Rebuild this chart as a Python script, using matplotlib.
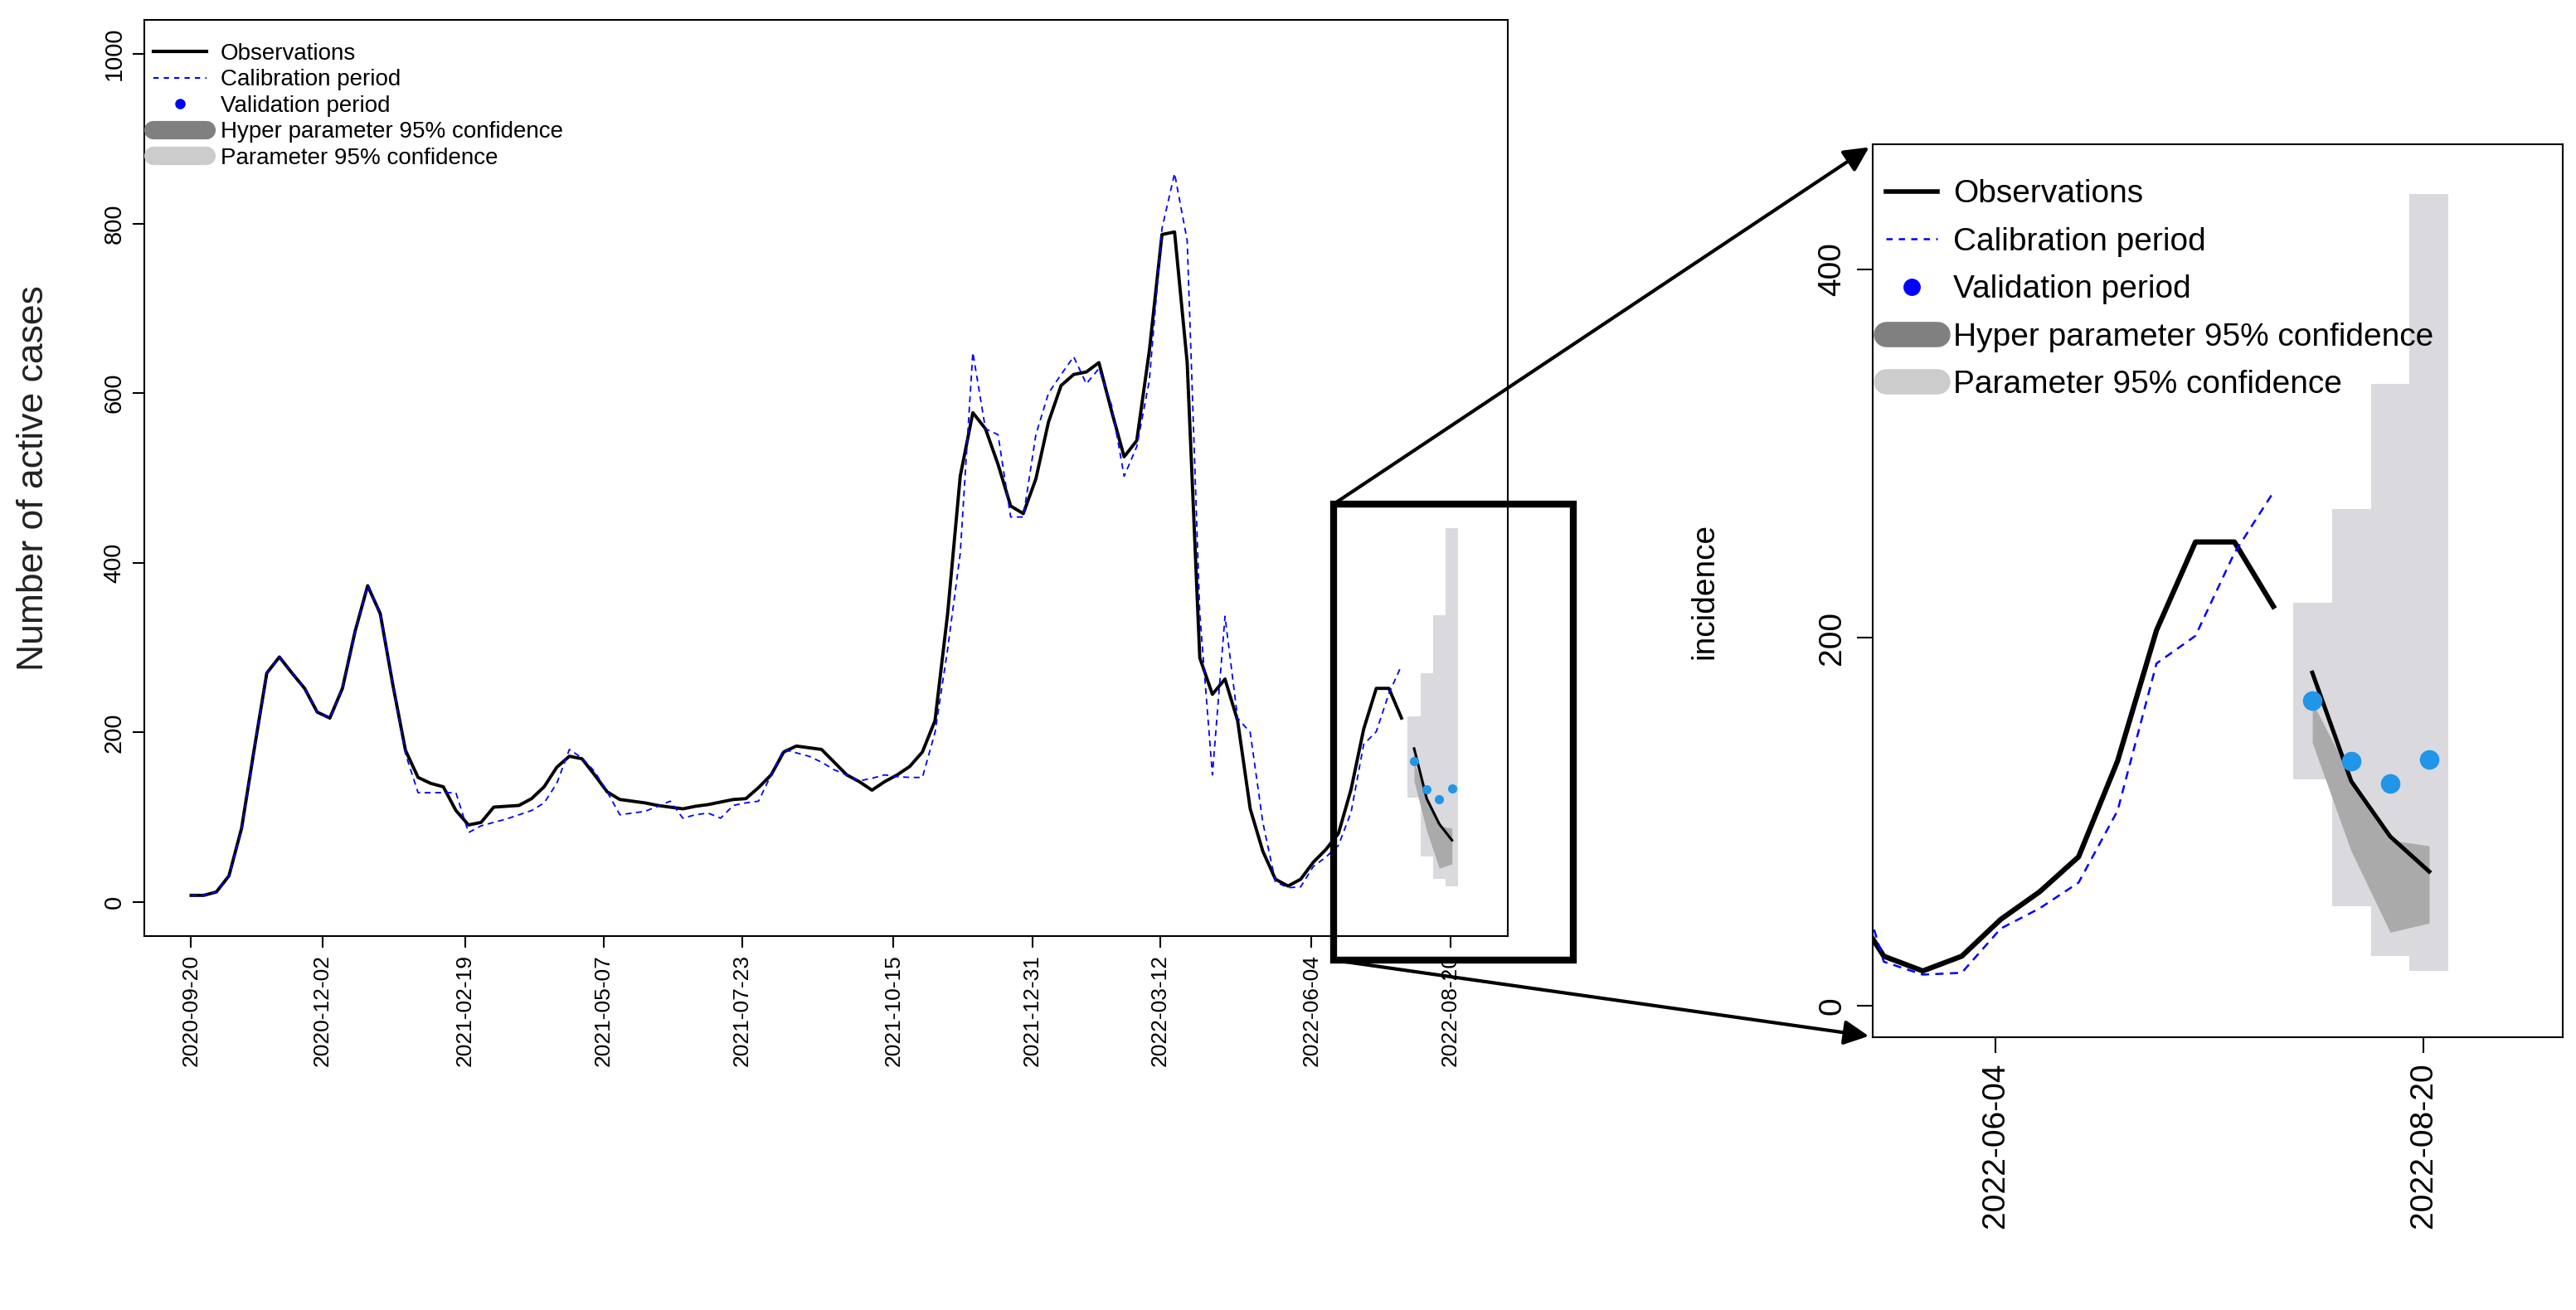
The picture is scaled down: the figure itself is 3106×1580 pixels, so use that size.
import numpy as np
import pandas as pd
import matplotlib
matplotlib.use('Agg')
import matplotlib.pyplot as plt
from matplotlib.lines import Line2D
from matplotlib.patches import Rectangle, FancyArrowPatch

plt.rcParams['font.family'] = ['Liberation Sans', 'DejaVu Sans']

# ---------------- data (weekly) ----------------
START = '2020-09-20'
obs = [8, 8, 12, 31, 87, 180, 270, 289, 270, 252, 224, 217, 252, 319, 373, 340,
       256, 179, 147, 140, 136, 108, 91, 94, 112, 113, 114, 122, 136, 159, 172,
       169, 150, 130, 121, 119, 117, 114, 112, 110, 113, 115, 118, 121, 122, 135,
       150, 177, 184, 182, 180, 165, 150, 142, 132, 142, 150, 160, 177, 214, 340,
       502, 577, 558, 516, 467, 458, 499, 566, 609, 622, 625, 636, 579, 525, 544,
       650, 787, 790, 636, 288, 245, 263, 214, 110, 60, 27, 19, 27, 47, 62, 81,
       133, 204, 252, 252, 217]
calib = [8, 8, 12, 31, 85, 180, 270, 289, 270, 252, 224, 217, 252, 319, 373, 340,
         256, 175, 129, 129, 129, 129, 82, 90, 94, 98, 103, 108, 117, 140, 180,
         170, 154, 130, 103, 105, 107, 113, 119, 99, 103, 105, 99, 114, 117, 119,
         150, 180, 176, 172, 165, 156, 150, 143, 146, 150, 148, 147, 147, 200, 298,
         411, 648, 558, 551, 454, 454, 551, 600, 622, 643, 611, 629, 586, 502, 537,
         615, 794, 859, 780, 340, 150, 337, 217, 200, 94, 24, 17, 18, 42, 53, 67,
         106, 186, 201, 246, 279]
obs_valid = [181, 122, 92, 73]
valid_pts = [166, 133, 121, 134]
hyper_lo = [143, 84, 40, 45]
hyper_hi = [165, 124, 90, 87]
param_lo = [123, 54, 27, 19]
param_hi = [219, 270, 338, 441]

tick_labels = ['2020-09-20', '2020-12-02', '2021-02-19', '2021-05-07', '2021-07-23',
               '2021-10-15', '2021-12-31', '2022-03-12', '2022-06-04', '2022-08-20']
inset_ticks = ['2022-06-04', '2022-08-20']

dates = pd.date_range(START, periods=len(obs), freq='7D')
vdates = pd.date_range(dates[-1] + pd.Timedelta(days=7), periods=len(obs_valid), freq='7D')

BAND_LIGHT = '#d9d9de'
BAND_DARK = '#aaaaaa'
PT_COLOR = '#2196e8'

W, H = 3106, 1580
fig = plt.figure(figsize=(W / 100, H / 100), dpi=100)


def draw(ax, lw_obs, lw_cal, ms):
    ax.bar(vdates, np.array(param_hi) - np.array(param_lo), bottom=param_lo,
           width=7, color=BAND_LIGHT, linewidth=0, zorder=1)
    ax.fill_between(vdates, hyper_lo, hyper_hi, color=BAND_DARK, linewidth=0, zorder=2)
    ax.plot(dates, obs, color='black', lw=lw_obs, zorder=3)
    ax.plot(dates, calib, color='blue', lw=lw_cal, ls=(0, (4, 3)), zorder=4)
    ax.plot(vdates, obs_valid, color='black', lw=lw_obs * 0.8, zorder=3)
    ax.plot(vdates, valid_pts, 'o', color=PT_COLOR, ms=ms, mec='none', zorder=5)
    for s in ax.spines.values():
        s.set_linewidth(1.5)


def legend(ax, fs, hl, spacing, hlen, pad, top):
    handles = [Line2D([], [], color='black', lw=hl[0]),
               Line2D([], [], color='blue', lw=hl[1], ls=(0, (3, 3))),
               Line2D([], [], color='blue', ls='none', marker='o', ms=hl[2]),
               Line2D([], [], color='#808080', lw=hl[3], solid_capstyle='round'),
               Line2D([], [], color='#cccccc', lw=hl[3], solid_capstyle='round')]
    labels = ['Observations', 'Calibration period', 'Validation period',
              'Hyper parameter 95% confidence', 'Parameter 95% confidence']
    ax.legend(handles, labels, loc='upper left', bbox_to_anchor=(0, top),
              frameon=False, fontsize=fs, borderaxespad=0.0, handlelength=hlen,
              handletextpad=pad, labelspacing=spacing, borderpad=0.4)


# ---------------- main panel ----------------
ax = fig.add_axes([174 / W, 1 - 1129 / H, (1818 - 174) / W, (1129 - 24) / H])
draw(ax, 2.8, 1.3, 8)
ax.set_ylim(-40, 1040)
ax.set_xlim(pd.Timestamp('2020-08-25'), pd.Timestamp('2022-09-21'))
ax.set_yticks(range(0, 1001, 200))
ax.set_yticklabels([str(v) for v in range(0, 1001, 200)], rotation=90, va='center')
ax.set_xticks(pd.to_datetime(tick_labels))
ax.set_xticklabels(tick_labels, rotation=90)
ax.tick_params(labelsize=19, length=10, width=1.5, pad=6)
ax.tick_params(axis='y', labelsize=21)
ax.set_ylabel('Number of active cases', fontsize=32, labelpad=45, color='#222222')
legend(ax, 20, [3, 1.5, 8, 16], 0.2, 2.3, 0.6, 0.985)

# ---------------- inset ----------------
ax2 = fig.add_axes([2258 / W, 1 - 1251 / H, (3090 - 2258) / W, (1251 - 174) / H])
draw(ax2, 4.5, 1.8, 17)
ax2.set_ylim(-17, 468)
ax2.set_xlim(pd.Timestamp('2022-05-13'), pd.Timestamp('2022-09-14'))
ax2.set_yticks([0, 200, 400])
ax2.set_yticklabels(['0', '200', '400'], rotation=90, va='center')
ax2.set_xticks(pd.to_datetime(inset_ticks))
ax2.set_xticklabels(inset_ticks, rotation=90)
ax2.tick_params(labelsize=28, length=14, width=1.5, pad=8)
ax2.set_ylabel('incidence', fontsize=28, labelpad=85)
legend(ax2, 28, [4, 1.8, 14, 22], 0.55, 1.6, 0.5, 0.975)

# ---------------- zoom box and arrows (figure pixels) ----------------
fx = lambda x: x / W
fy = lambda y: 1 - y / H
fig.add_artist(Rectangle((fx(1608), fy(1158)), fx(1897) - fx(1608), fy(608) - fy(1158),
                         transform=fig.transFigure, fill=False, lw=6, ec='black'))
for (x0, y0), (x1, y1) in [((1608, 608), (2256, 176)), ((1608, 1158), (2256, 1250))]:
    fig.add_artist(FancyArrowPatch((fx(x0), fy(y0)), (fx(x1), fy(y1)),
                                   transform=fig.transFigure, arrowstyle='-|>',
                                   mutation_scale=45, lw=3, color='black'))

fig.savefig('out.png', dpi=100)
